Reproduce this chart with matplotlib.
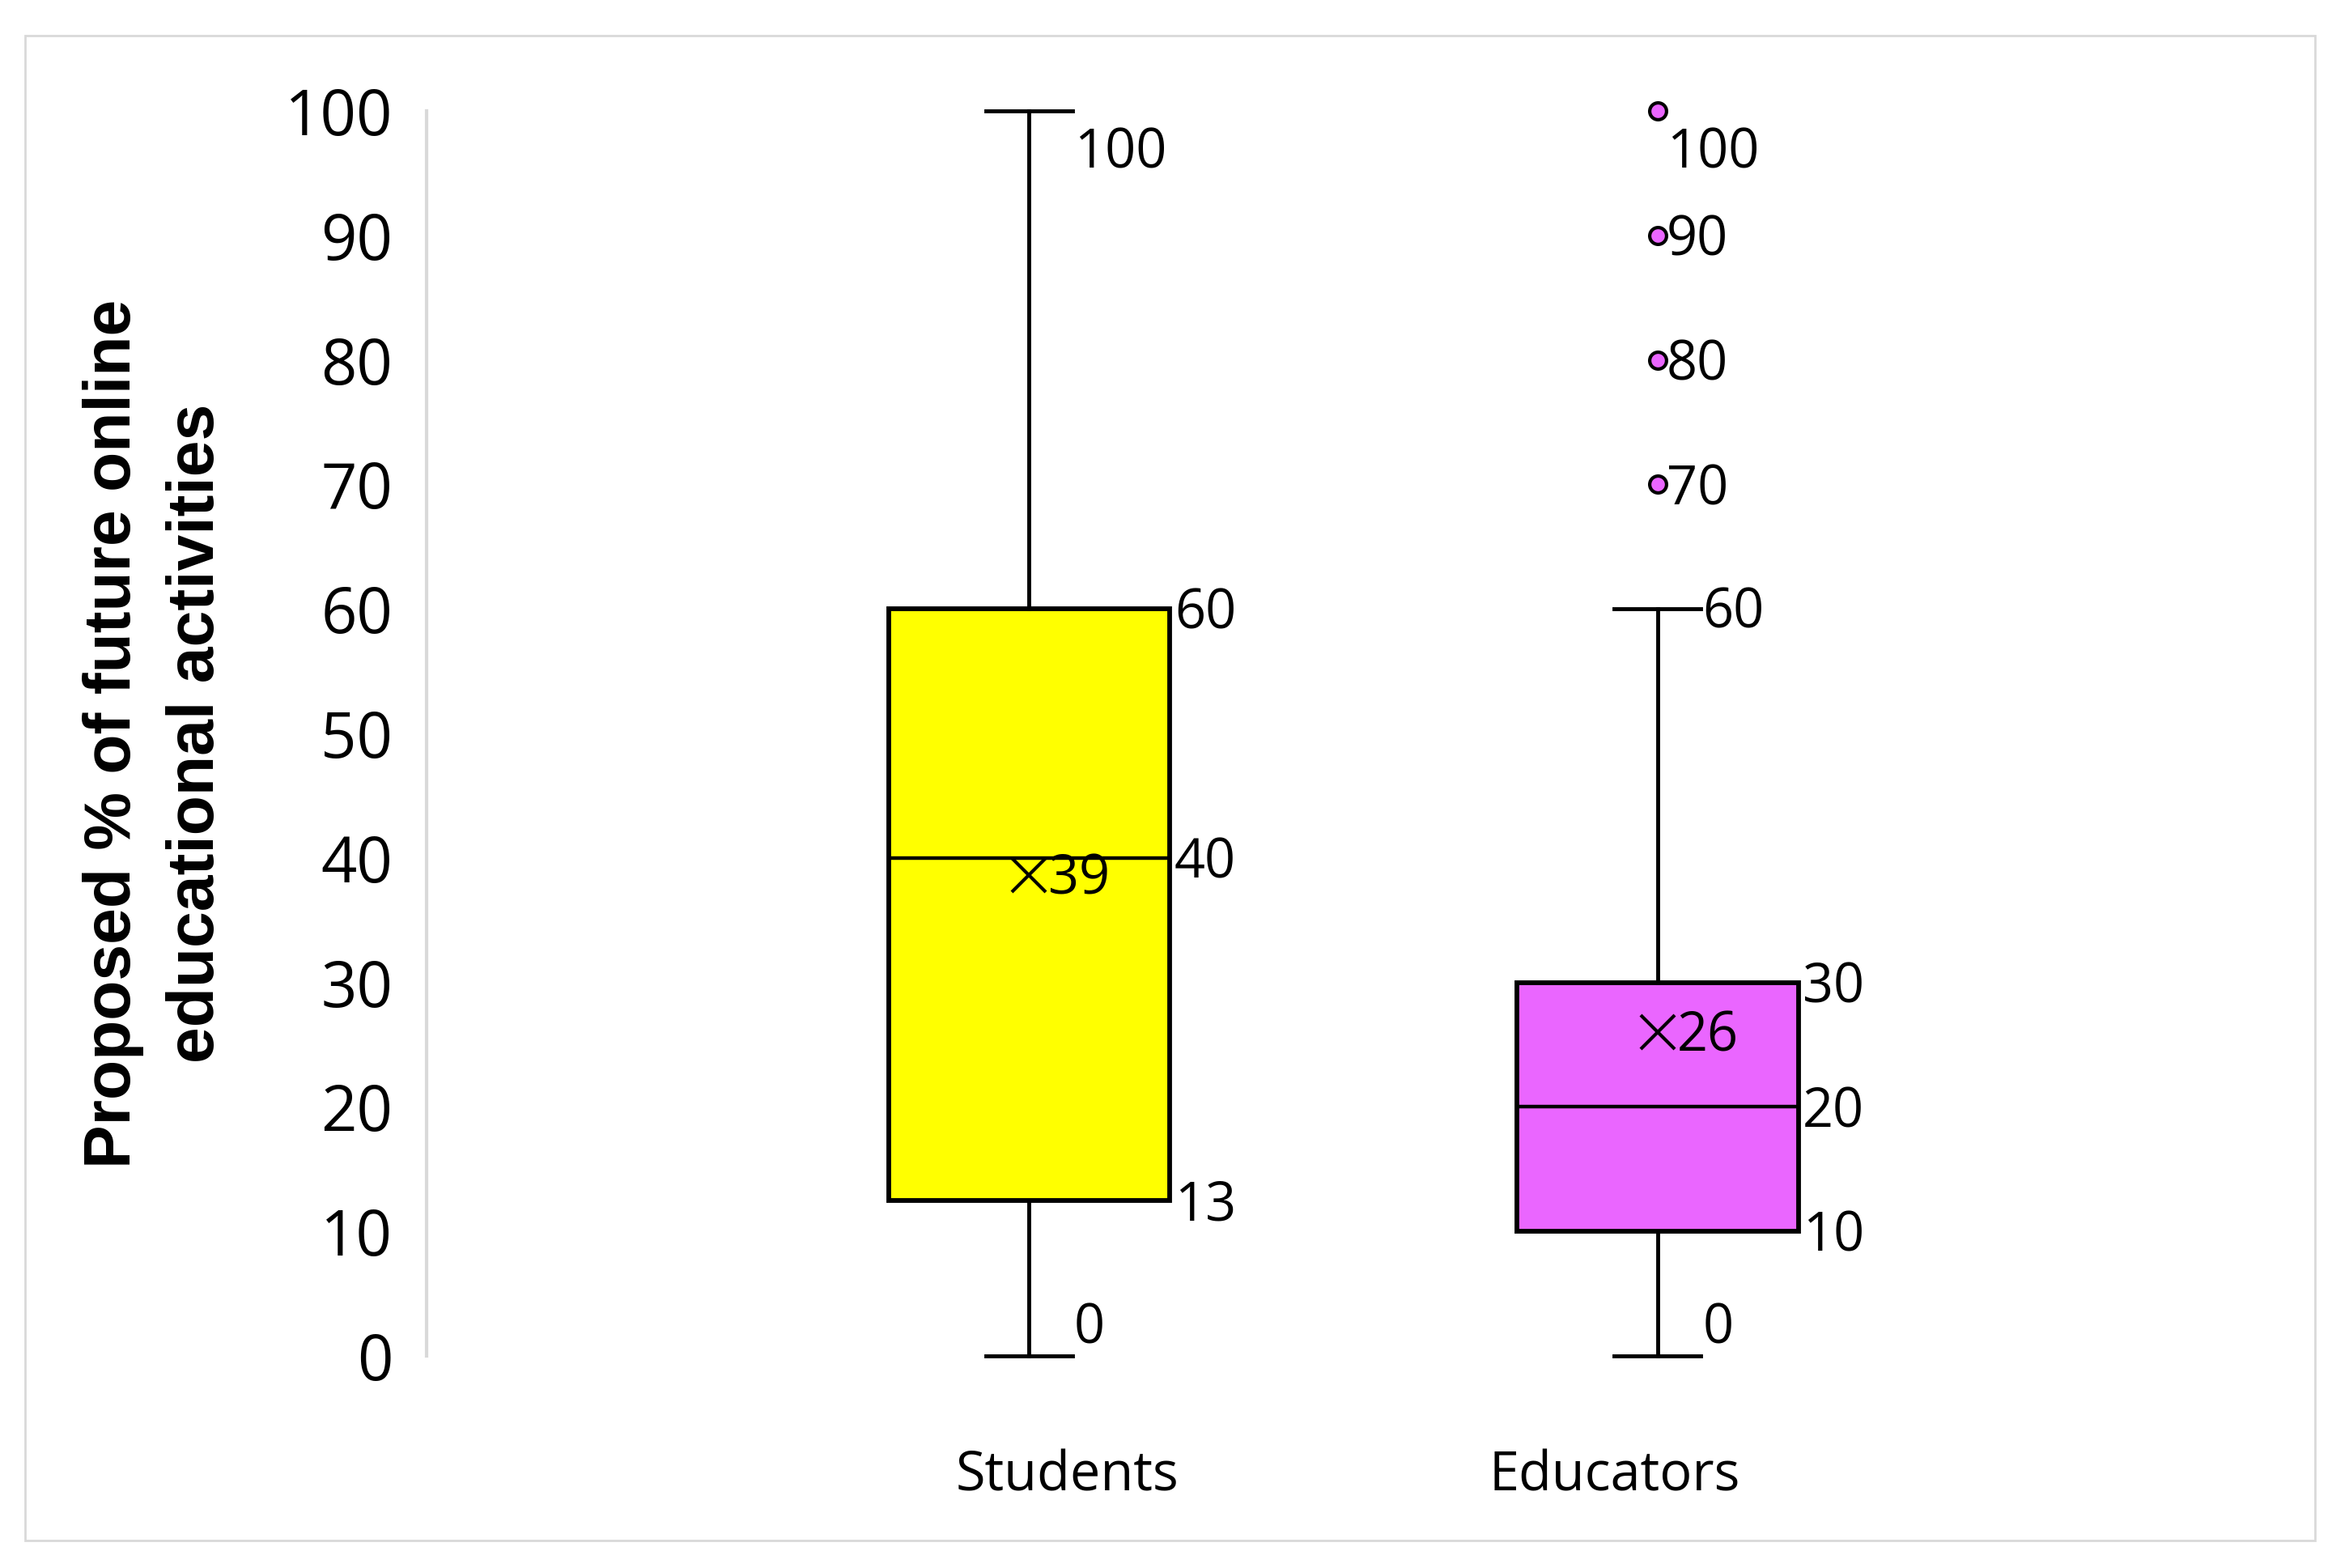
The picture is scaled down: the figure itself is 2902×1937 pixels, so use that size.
import matplotlib
matplotlib.use("Agg")
import matplotlib.pyplot as plt
from matplotlib.patches import Rectangle

# summary values
groups = ["Students", "Educators"]
whisker_low = [0, 0]
q1 = [12.5, 10]
median = [40, 20]
q3 = [60, 30]
whisker_high = [100, 60]
means = [38.6, 26]
outliers = [[], [70, 80, 90, 100]]
box_colors = ["#FFFF00", "#EA66FF"]

y_ticks = [0, 10, 20, 30, 40, 50, 60, 70, 80, 90, 100]

plt.rcParams["font.family"] = ["Open Sans", "DejaVu Sans"]

fig = plt.figure(figsize=(29.02, 19.37), dpi=100)
ax = fig.add_axes([0.1816, 0.1353, 0.7350, 0.7940])

box_pos = [3.49, 7.13]
label_pos = [3.71, 6.88]
box_w = 1.63

stats = []
for i, g in enumerate(groups):
    stats.append(dict(label=g, whislo=whisker_low[i], q1=q1[i], med=median[i],
                      q3=q3[i], whishi=whisker_high[i], mean=means[i], fliers=outliers[i]))

bp = ax.bxp(stats, positions=box_pos, widths=box_w, capwidths=0.5,
            showmeans=True, patch_artist=True,
            boxprops=dict(edgecolor="black", linewidth=4.2),
            medianprops=dict(color="black", linewidth=3.2),
            whiskerprops=dict(color="black", linewidth=3.5),
            capprops=dict(color="black", linewidth=3.5),
            meanprops=dict(marker="x", markeredgecolor="black", markersize=30, markeredgewidth=3),
            flierprops=dict(marker="o", markerfacecolor=box_colors[1], markeredgecolor="black",
                            markersize=15, markeredgewidth=3))

for patch, c in zip(bp["boxes"], box_colors):
    patch.set_facecolor(c)
for key in bp:
    for art in bp[key]:
        art.set_clip_on(False)

ax.set_xlim(0, 10)
ax.set_ylim(0, 100)
ax.set_yticks(y_ticks)
ax.set_xticks(label_pos)
ax.set_xticklabels(groups)
ax.tick_params(axis="y", length=0, pad=30, labelsize=56)
ax.tick_params(axis="x", length=0, pad=83, labelsize=48)

for s in ["top", "right", "bottom"]:
    ax.spines[s].set_visible(False)
ax.spines["left"].set_color("#D9D9D9")
ax.spines["left"].set_linewidth(3)

ax.set_ylabel("Proposed % of future online\neducational activities", fontsize=58,
              fontweight="bold", family=["Liberation Sans", "DejaVu Sans"],
              linespacing=1.45, labelpad=51)


def excel_round(v):
    return int(v + 0.5)


def note(v, x, y, dx, dy):
    ax.annotate(f"{excel_round(v)}", xy=(x, y), xytext=(dx, dy), textcoords="offset points",
                ha="left", va="center", fontsize=48, annotation_clip=False)


for i in range(len(groups)):
    p = box_pos[i]
    right = p + box_w / 2
    note(whisker_high[i], p, whisker_high[i], 40, -38 if whisker_high[i] == 100 else -4)
    note(whisker_low[i], p, whisker_low[i], 40, 24)
    for v in [q3[i], median[i], q1[i]]:
        note(v, right, v, 4, -5)
    note(means[i], p, means[i], 17, -4)
    for v in outliers[i]:
        note(v, p, v, 8, -38 if v == 100 else -5)

fig.patches.append(Rectangle((31 / 2902, 1 - 1903 / 1937), (2860 - 31) / 2902, (1903 - 44) / 1937,
                             transform=fig.transFigure, fill=False, edgecolor="#D9D9D9", lw=2))

fig.savefig("out.png", dpi=100)
